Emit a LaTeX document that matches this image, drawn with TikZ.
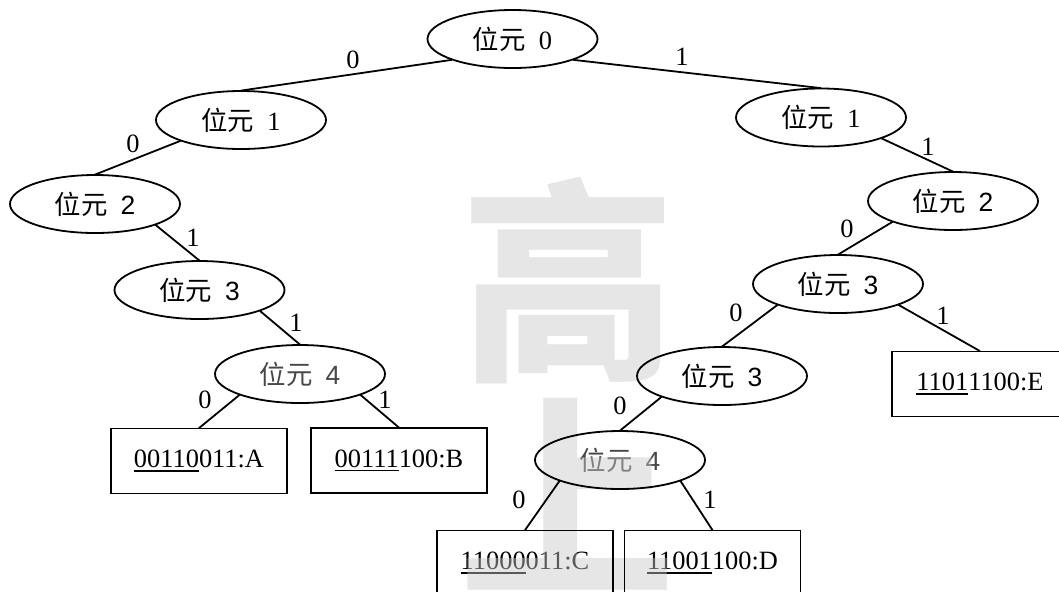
\documentclass[tikz,border=0pt]{standalone}
\usepackage{fontspec}
\setmainfont{Liberation Serif}
\newfontfamily\cjk{Noto Sans CJK TC}
\newfontfamily\dsans{Liberation Sans}
\usetikzlibrary{shapes.geometric}

% underline drawn as a rule of fixed weight below the baseline
\newcommand\uln[1]{\setbox0\hbox{#1}\leavevmode\rlap{\rule[-2.2pt]{\wd0}{0.9pt}}\box0\relax}

\tikzset{
  bitnode/.style={ellipse, minimum width=85pt, minimum height=29pt, inner sep=0pt,
                  font=\fontsize{13.2pt}{15pt}\selectfont},
  leafnode/.style={rectangle, minimum width=88pt, minimum height=32.5pt, inner sep=0pt,
                  font=\fontsize{13.2pt}{15pt}\selectfont},
  bitframe/.style={bitnode, draw, line width=0.9pt},
  leafframe/.style={leafnode, draw, line width=0.9pt},
  link/.style={line width=0.9pt},
  edgelab/.style={inner sep=0pt, font=\fontsize{13.2pt}{15pt}\selectfont},
  wmark/.style={inner sep=0pt, text=black!22, text opacity=0.45,
                font=\fontsize{108pt}{110pt}\selectfont\cjk\bfseries},
}

\begin{document}
\begin{tikzpicture}[x=0.5pt, y=-0.5pt]
\useasboundingbox (0,0) rectangle (1059,591);
\clip (0,0) rectangle (1059,591);

% --- node texts ---
\node[bitnode] (r)   at (512.5,39) {{\cjk 位元}\hspace{0.5em}0};
\node[bitnode] (l1)  at (241,120)  {{\cjk 位元}\hspace{0.5em}1};
\node[bitnode] (l2)  at (95,204)   {{\cjk 位元}\hspace{0.5em}{\dsans 2}};
\node[bitnode] (l3)  at (199.5,290){{\cjk 位元}\hspace{0.5em}{\dsans 3}};
\node[bitnode, text=black!72] (l4) at (300,374) {{\cjk 位元}\hspace{0.5em}{\dsans 4}};
\node[bitnode] (r1)  at (821,117.5){{\cjk 位元}\hspace{0.5em}1};
\node[bitnode] (r2)  at (953,201)  {{\cjk 位元}\hspace{0.5em}{\dsans 2}};
\node[bitnode] (r3)  at (838,284)  {{\cjk 位元}\hspace{0.5em}{\dsans 3}};
\node[bitnode] (r3b) at (722,376)  {{\cjk 位元}\hspace{0.5em}{\dsans 3}};
\node[bitnode, text=black!72] (r4) at (620,460) {{\cjk 位元}\hspace{0.5em}{\dsans 4}};

\node[leafnode] (a) at (199,461)   {\uln{00110}011:A};
\node[leafnode] (b) at (399,460.5) {\uln{00111}100:B};
\node[leafnode] (c) at (525,563)   {\uln{11000}011:C};
\node[leafnode] (d) at (712.5,563) {\uln{11001}100:D};
\node[leafnode] (e) at (980,384)   {\uln{1101}1100:E};

% --- watermark over the texts ---
\node[wmark] (wm1) at (568,280) {高};
\node[wmark] (wm2) at (567.5,494) {上};

% --- outlines ---
\foreach \n in {r,l1,l2,l3,l4,r1,r2,r3,r3b,r4}
  \node[bitframe] (\n-frame) at (\n.center) {};
\foreach \n in {a,b,c,d,e}
  \node[leafframe] (\n-frame) at (\n.center) {};

% --- connectors ---
\draw[link] (r.199)   -- (l1.north);
\draw[link] (r.341)   -- (r1.north);
\draw[link] (l1.199)  -- (l2.north);
\draw[link] (l2.341)  -- (l3.north);
\draw[link] (l3.341)  -- (l4.north);
\draw[link] (l4.199)  -- (a.north);
\draw[link] (l4.341)  -- (b.north);
\draw[link] (r1.341)  -- (r2.north);
\draw[link] (r2.199)  -- (r3.north);
\draw[link] (r3.199)  -- (r3b.north);
\draw[link] (r3.341)  -- (e.north);
\draw[link] (r3b.199) -- (r4.north);
\draw[link] (r4.199)  -- (c.north);
\draw[link] (r4.341)  -- (d.north);

% --- branch labels ---
\node[edgelab] (t1)  at (353,60)  {0};
\node[edgelab] (t2)  at (682,57)  {1};
\node[edgelab] (t3)  at (133,144) {0};
\node[edgelab] (t4)  at (193,238) {1};
\node[edgelab] (t5)  at (296,323) {1};
\node[edgelab] (t6)  at (205,400) {0};
\node[edgelab] (t7)  at (385,400) {1};
\node[edgelab] (t8)  at (928,147) {1};
\node[edgelab] (t9)  at (847,229) {0};
\node[edgelab] (t10) at (736,313) {0};
\node[edgelab] (t11) at (943,316) {1};
\node[edgelab] (t12) at (620,406) {0};
\node[edgelab] (t13) at (519,500) {0};
\node[edgelab] (t14) at (710,500) {1};
\end{tikzpicture}
\end{document}
